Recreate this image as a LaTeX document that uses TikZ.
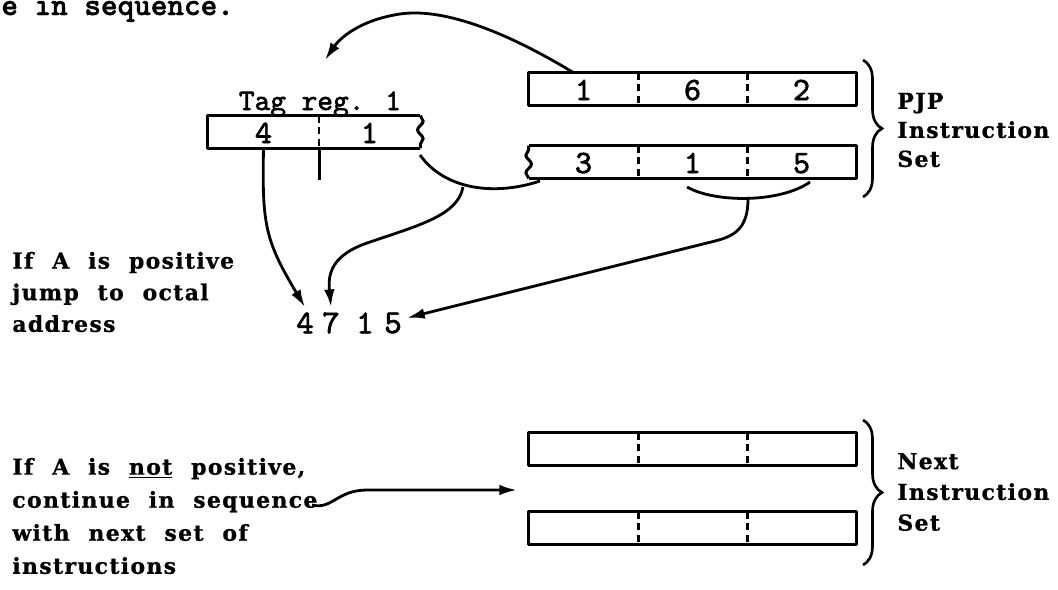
\documentclass[tikz,border=0pt]{standalone}
\usepackage{fontspec}
\setmainfont{DejaVu Serif}[LetterSpace=6,WordSpace=2.1,BoldFeatures={FakeBold=0.8}]
\newfontfamily\typefont{lmmono10-regular.otf}[FakeBold=2]
\newfontfamily\headfont{lmmonolt10-bold.otf}[FakeBold=1.5]
\usetikzlibrary{arrows.meta,decorations.pathmorphing,decorations.pathreplacing}

\tikzset{
  cell/.style={minimum width=21.8mm, minimum height=6.4mm, inner sep=0pt, text height=4.4mm, text depth=0pt, font=\typefont\fontsize{18.5}{18.5}\selectfont},
  frame/.style={line width=1.7pt, line join=round},
  split/.style={line width=1.3pt, dash pattern=on 4pt off 2.5pt},
  wire/.style={line width=1.6pt},
  arr/.style={wire, -{Latex[length=10pt,width=6pt]}},
  note/.style={anchor=west, align=left, inner sep=0pt, font=\bfseries\fontsize{12.5}{18}\selectfont},
  digit/.style={inner sep=1mm, font=\typefont\fontsize{19}{19}\selectfont},
  torn/.style={frame, decorate, decoration={snake, amplitude=1.6pt, segment length=10pt}},
  setbrace/.style={line width=1.5pt, decorate, decoration={brace, amplitude=3.8mm}}
}

\begin{document}
\begin{tikzpicture}[x=0.2mm, y=-0.2mm]
 \useasboundingbox (0,0) rectangle (1058,589);
 \draw (1,15) node[anchor=base west, inner sep=0pt, font=\headfont\fontsize{18}{18}\selectfont] (cont) {e in sequence.};

 \draw (320,110) node[anchor=base, inner sep=0pt, font=\typefont\fontsize{17}{17}\selectfont] (tagname) {Tag reg. 1};
 \draw (263.5,132) node[cell, minimum width=22.2mm] (tag1) {4};
 \draw (369.5,132) node[cell, minimum width=20.2mm] (tag2) {1};
 \draw[frame] (tag2.north east) -- (tag1.north west) -- (tag1.south west) -- (tag2.south east);
 \draw[torn] (tag2.north east) -- (tag2.south east);
 \draw[split] (tag1.north east) -- (tag1.south east);
 \draw[frame] (tag1.south east) -- ++(0,32);

 \draw (583.5,89) node[cell] (pjpA1) {1};
 \draw (692.5,89) node[cell] (pjpA2) {6};
 \draw (801.5,89) node[cell] (pjpA3) {2};
 \draw (583.5,162) node[cell] (pjpB1) {3};
 \draw (692.5,162) node[cell] (pjpB2) {1};
 \draw (801.5,162) node[cell] (pjpB3) {5};
 \foreach \i/\cx in {1/583.5,2/692.5,3/801.5} {
   \draw (\cx,449) node[cell] (nxtA\i) {};
   \draw (\cx,528) node[cell] (nxtB\i) {};
 }
 \draw[frame] (pjpA1.north west) rectangle (pjpA3.south east);
 \draw[frame] (pjpB1.north west) -- (pjpB3.north east) -- (pjpB3.south east) -- (pjpB1.south west);
 \draw[torn] (pjpB1.south west) -- (pjpB1.north west);
 \draw[frame] (nxtA1.north west) rectangle (nxtA3.south east);
 \draw[frame] (nxtB1.north west) rectangle (nxtB3.south east);
 \foreach \r in {pjpA,pjpB,nxtA,nxtB}
   \foreach \i in {1,2} \draw[split] (\r\i.north east) -- (\r\i.south east);

 \draw[setbrace] (863,60) -- (863,197);
 \draw[setbrace] (863,420) -- (863,565);
 \draw (897,130) node[note, font=\bfseries\fontsize{12.5}{16.5}\selectfont] (pjpnote) {PJP\\Instruction\\Set};
 \draw (897,492) node[note, font=\bfseries\fontsize{12.5}{17.5}\selectfont] (nxtnote) {Next\\Instruction\\Set};

 \draw (12,292) node[note] (posnote) {If A is positive\\jump to octal\\address};
 \draw (12,516) node[note, font=\bfseries\fontsize{12.5}{18.8}\selectfont] (nonote) {If A is \underline{not} positive,\\continue in sequence\\with next set of\\instructions};

 \draw (305,323) node[digit] (d4) {4};
 \draw (331,323) node[digit] (d7) {7};
 \draw (365,323) node[digit] (d1) {1};
 \draw (393,323) node[digit] (d5) {5};

 \coordinate (tagin) at (325,60);
 \coordinate (arc1a) at (420,155);
 \coordinate (arc1b) at (540,181);
 \coordinate (arc1m) at (463,187);
 \coordinate (arc2a) at (687,187);
 \coordinate (arc2b) at (810,182);
 \coordinate (arc2m) at (748,199);
 \coordinate (seqend) at (312,505);
 \coordinate (nxtin) at (517,490);

 \draw[arr] ([xshift=-2mm]pjpA1.north) .. controls (500,28) and (440,8) .. (400,14) .. controls (360,20) and (340,38) .. (tagin);
 \draw[arr] (tag1.south) .. controls (262,225) and (265,240) .. (d4.north);
 \draw[wire] (arc1a) .. controls (445,190) and (495,196) .. (arc1b);
 \draw[arr] (arc1m) .. controls (458,215) and (420,225) .. (370,242) .. controls (330,255) and (328,275) .. (d7.north);
 \draw[wire] (arc2a) .. controls (715,203) and (780,203) .. (arc2b);
 \draw[arr] (arc2m) .. controls (748,228) and (735,236) .. (715,241) -- (d5.20);
 \draw[arr] (seqend) .. controls (332,510) and (337,490) .. (367,490) -- (nxtin);
\end{tikzpicture}
\end{document}
